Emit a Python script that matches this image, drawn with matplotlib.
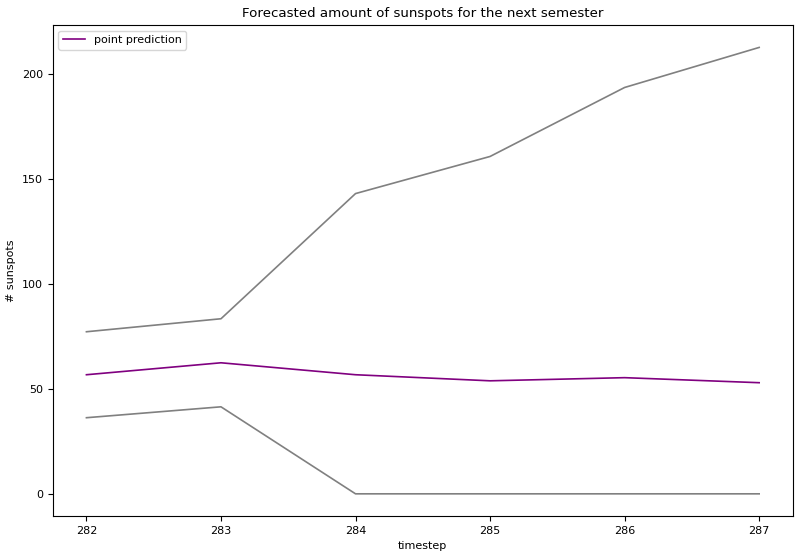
import matplotlib
matplotlib.use("Agg")
import matplotlib.pyplot as plt

# forecast values
timesteps = [282, 283, 284, 285, 286, 287]
point_pred = [56.8, 62.5, 56.8, 53.9, 55.4, 53.0]
upper_bound = [77.3, 83.5, 143.2, 160.9, 193.8, 212.9]
lower_bound = [36.3, 41.5, 0.0, 0.0, 0.0, 0.0]

plt.rcParams['font.size'] = 8
plt.rcParams['axes.linewidth'] = 0.8

fig, ax = plt.subplots(figsize=(8, 5.58), dpi=100)
ax.plot(timesteps, point_pred, color="purple", lw=1.2, label="point prediction")
ax.plot(timesteps, upper_bound, color="grey", lw=1.2)
ax.plot(timesteps, lower_bound, color="grey", lw=1.2)

ax.set_title("Forecasted amount of sunspots for the next semester", fontsize=9.6)
ax.set_xlabel("timestep")
ax.set_ylabel("# sunspots")
ax.legend(loc="upper left")

fig.subplots_adjust(left=0.066, right=0.991, top=0.955, bottom=0.075)
fig.savefig("out.png", dpi=100)
